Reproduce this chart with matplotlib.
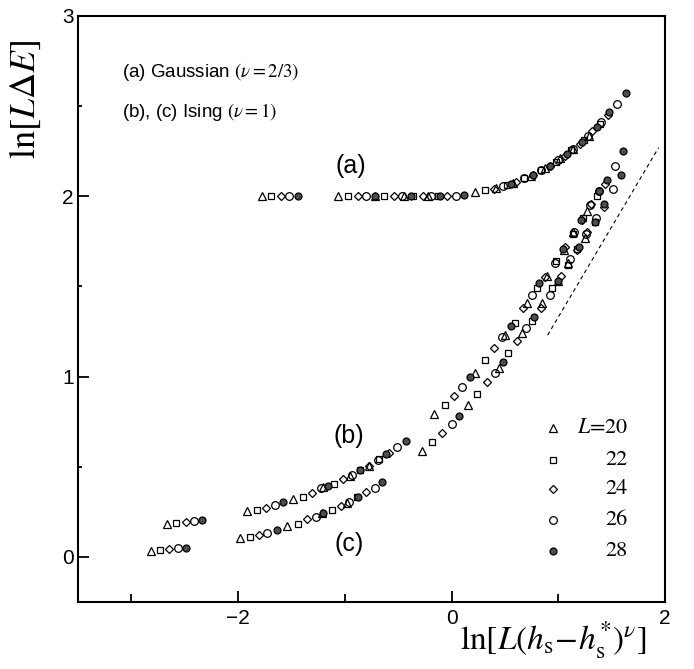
import numpy as np
import matplotlib.pyplot as plt

plt.rcParams['font.family'] = ['Liberation Sans', 'DejaVu Sans']
plt.rcParams['mathtext.fontset'] = 'stix'

# system sizes, one column per L in every data block below
sizes = ['20', '22', '24', '26', '28']

# curve (a): Gaussian, rows = field values, columns = L
a_x = [[-1.78, -1.69, -1.60, -1.52, -1.44],
       [-1.06, -0.97, -0.88, -0.80, -0.72],
       [-0.72, -0.63, -0.54, -0.46, -0.38],
       [-0.45, -0.36, -0.27, -0.19, -0.11],
       [-0.22, -0.13, -0.04, 0.04, 0.12],
       [0.22, 0.31, 0.40, 0.48, 0.56],
       [0.42, 0.52, 0.60, 0.68, 0.76],
       [0.58, 0.68, 0.76, 0.84, 0.92],
       [0.74, 0.84, 0.92, 1.00, 1.08],
       [0.88, 0.98, 1.06, 1.14, 1.22],
       [1.02, 1.12, 1.20, 1.28, 1.36],
       [1.14, 1.24, 1.32, 1.40, 1.48],
       [1.29, 1.39, 1.47, 1.55, 1.63]]
a_y = [[2.00, 2.00, 2.00, 2.00, 2.00],
       [2.00, 2.00, 2.00, 2.00, 2.00],
       [2.00, 2.00, 2.00, 2.00, 2.00],
       [2.00, 2.00, 2.00, 2.00, 2.00],
       [2.00, 2.00, 2.00, 2.00, 2.005],
       [2.025, 2.035, 2.04, 2.055, 2.07],
       [2.045, 2.06, 2.08, 2.10, 2.12],
       [2.075, 2.10, 2.12, 2.145, 2.17],
       [2.115, 2.145, 2.17, 2.20, 2.235],
       [2.155, 2.19, 2.225, 2.26, 2.30],
       [2.21, 2.255, 2.29, 2.335, 2.385],
       [2.26, 2.31, 2.36, 2.41, 2.47],
       [2.335, 2.40, 2.45, 2.51, 2.575]]

# curve (b): Ising
b_x = [[-2.67, -2.58, -2.49, -2.41, -2.34],
       [-1.92, -1.82, -1.74, -1.65, -1.58],
       [-1.49, -1.39, -1.31, -1.22, -1.16],
       [-1.20, -1.10, -1.02, -0.93, -0.86],
       [-0.95, -0.86, -0.77, -0.69, -0.61],
       [-0.77, -0.68, -0.59, -0.51, -0.43],
       [-0.16, -0.06, 0.02, 0.10, 0.17],
       [0.22, 0.31, 0.40, 0.47, 0.56],
       [0.50, 0.59, 0.67, 0.75, 0.82],
       [0.71, 0.80, 0.88, 0.97, 1.04],
       [0.89, 0.98, 1.06, 1.15, 1.21],
       [1.05, 1.14, 1.22, 1.30, 1.38],
       [1.14, 1.23, 1.31, 1.38, 1.46],
       [1.27, 1.36, 1.44, 1.53, 1.61]]
b_y = [[0.183, 0.19, 0.195, 0.20, 0.206],
       [0.255, 0.262, 0.272, 0.29, 0.305],
       [0.32, 0.335, 0.355, 0.38, 0.395],
       [0.39, 0.405, 0.43, 0.455, 0.48],
       [0.45, 0.48, 0.505, 0.54, 0.57],
       [0.505, 0.545, 0.575, 0.61, 0.645],
       [0.79, 0.84, 0.895, 0.945, 1.00],
       [1.02, 1.09, 1.16, 1.22, 1.28],
       [1.23, 1.30, 1.38, 1.45, 1.52],
       [1.41, 1.49, 1.555, 1.63, 1.71],
       [1.56, 1.64, 1.72, 1.80, 1.87],
       [1.70, 1.79, 1.87, 1.95, 2.03],
       [1.80, 1.88, 1.96, 2.03, 2.09],
       [1.92, 2.00, 2.07, 2.17, 2.25]]

# curve (c): Ising
c_x = [[-2.82, -2.73, -2.65, -2.56, -2.49],
       [-1.98, -1.89, -1.80, -1.73, -1.64],
       [-1.54, -1.44, -1.35, -1.27, -1.20],
       [-1.21, -1.12, -1.04, -0.96, -0.88],
       [-0.98, -0.89, -0.80, -0.72, -0.65],
       [-0.28, -0.18, -0.09, 0.00, 0.07],
       [0.15, 0.24, 0.33, 0.41, 0.48],
       [0.44, 0.53, 0.61, 0.70, 0.77],
       [0.66, 0.75, 0.84, 0.92, 1.00],
       [0.85, 0.94, 1.03, 1.11, 1.19],
       [1.00, 1.09, 1.18, 1.26, 1.34],
       [1.09, 1.18, 1.27, 1.35, 1.43],
       [1.25, 1.34, 1.43, 1.51, 1.59]]
c_y = [[0.033, 0.04, 0.045, 0.05, 0.052],
       [0.105, 0.11, 0.12, 0.135, 0.15],
       [0.17, 0.185, 0.21, 0.22, 0.245],
       [0.245, 0.26, 0.28, 0.305, 0.33],
       [0.30, 0.33, 0.36, 0.385, 0.415],
       [0.59, 0.64, 0.69, 0.74, 0.78],
       [0.845, 0.905, 0.97, 1.02, 1.08],
       [1.05, 1.13, 1.20, 1.27, 1.33],
       [1.24, 1.31, 1.38, 1.45, 1.53],
       [1.41, 1.49, 1.56, 1.65, 1.72],
       [1.53, 1.62, 1.70, 1.79, 1.86],
       [1.63, 1.71, 1.80, 1.88, 1.96],
       [1.77, 1.86, 1.94, 2.04, 2.12]]

# slope-1 guide line
guide_x = [0.90, 1.94]
guide_y = [1.23, 2.27]

styles = [dict(marker='^', ms=5.5, mfc='none'),
          dict(marker='s', ms=4.8, mfc='none'),
          dict(marker='D', ms=3.6, mfc='none'),
          dict(marker='o', ms=5.5, mfc='none'),
          dict(marker='o', ms=5.0, mfc='0.3')]

fig = plt.figure(figsize=(6.94, 6.69), dpi=100)
ax = fig.add_axes([0.1124, 0.1001, 0.8458, 0.876])

for xs, ys in [(a_x, a_y), (b_x, b_y), (c_x, c_y)]:
    xs = np.array(xs)
    ys = np.array(ys)
    for j in range(len(sizes)):
        ax.plot(xs[:, j], ys[:, j], ls='none', mec='k', mew=0.9, **styles[j])

ax.plot(guide_x, guide_y, color='k', lw=0.8, ls=(0, (3.5, 3)))

ax.set_xlim(-3.5, 2)
ax.set_ylim(-0.25, 3)
ax.set_xticks([-2, 0, 2])
ax.set_xticks([-3, -1, 1], minor=True)
ax.set_yticks([0, 1, 2, 3])
ax.set_yticks([0.5, 1.5, 2.5], minor=True)
ax.set_xticklabels(['\u22122', '0', '2'])
ax.tick_params(which='both', direction='in', top=False, right=False, width=1.3, labelsize=15)
ax.tick_params(axis='x', which='major', length=8, pad=5)
ax.tick_params(axis='x', which='minor', length=6)
ax.tick_params(axis='y', which='major', length=8, pad=3)
ax.tick_params(axis='y', which='minor', length=3)
for sp in ax.spines.values():
    sp.set_linewidth(1.5)

ax.set_ylabel(r'$\ln[L\Delta E]$', fontsize=26)
ax.yaxis.set_label_coords(-0.06, 0.857)
ax.set_xlabel(r'$\ln[L(h_{\rm s}\!-\!h_{\rm s}^{*})^{\nu}]$', fontsize=24, loc='right')
ax.xaxis.set_label_coords(0.969, -0.03)

ax.text(-3.09, 2.69, r'(a) Gaussian $(\nu\mathrm{=2/3})$', fontsize=13.5, va='center')
ax.text(-3.09, 2.47, r'(b), (c) Ising $(\nu\mathrm{=1})$', fontsize=13.5, va='center')
ax.text(-0.94, 2.17, '(a)', fontsize=18, ha='center', va='center')
ax.text(-0.96, 0.67, '(b)', fontsize=18, ha='center', va='center')
ax.text(-0.96, 0.072, '(c)', fontsize=18, ha='center', va='center')

# size key in the lower right corner
key_y = [0.297, 0.242, 0.193, 0.140, 0.087]
for j, lab in enumerate(sizes):
    ax.plot([0.809], [key_y[j]], transform=ax.transAxes, ls='none', mec='k', mew=0.9, **styles[j])
    txt = r'$L$=' + lab if j == 0 else lab
    ax.text(0.937, key_y[j], txt, transform=ax.transAxes, ha='right', va='center',
            fontsize=16, family='STIXGeneral')

fig.savefig('out.png', dpi=100)
